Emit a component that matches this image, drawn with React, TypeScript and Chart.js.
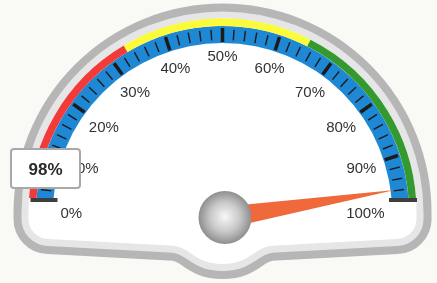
import React, { useEffect, useRef } from 'react';
import { Chart, registerables } from 'chart.js';

Chart.register(...registerables);

const CANVAS_W = 437;
const CANVAS_H = 283;

// ---- data ----
const SCALE_MIN = 0;
const SCALE_MAX = 100;
const BAND_EDGES = [0, 33, 65, 100];
const BAND_COLORS = ['#f23a38', '#fbfb3a', '#349a2f'];
const SCALE_RING = [100];
const SCALE_RING_COLORS = ['#1f88d5'];
const LABEL_VALUES = [0, 10, 20, 30, 40, 50, 60, 70, 80, 90, 100];
const LABEL_TEXTS = ['0%', '10%', '20%', '30%', '40%', '50%', '60%', '70%', '80%', '90%', '100%'];
const MINOR_STEP = 2;
const GAUGE_VALUES = [98];
const VALUE_TEXTS = ['98%'];

// ---- layout ----
const CX = 222.5;
const CY = 212.5;
const R_BAND_OUT = 194;
const R_BAND_IN = 186.5;
const R_RING_IN = 169.5;
const CLIP_Y = 198;
const R_LABEL = 162;
const PIVOT_X = 225;
const PIVOT_Y = 217.5;
const BALL_R = 26.5;
const NEEDLE_LEN = 172;
const NEEDLE_HALF = 11;
const NEEDLE_MARGIN_DEG = 5.8;
const FONT = '"Liberation Sans", Arial, Helvetica, sans-serif';

const valueToAngle = (v: number) =>
  -Math.PI + ((v - SCALE_MIN) / (SCALE_MAX - SCALE_MIN)) * Math.PI;

const needleAngle = (v: number) => {
  const f = (v - SCALE_MIN) / (SCALE_MAX - SCALE_MIN);
  const deg = 180 - NEEDLE_MARGIN_DEG - f * (180 - 2 * NEEDLE_MARGIN_DEG);
  return (-deg * Math.PI) / 180;
};

function facePath(ctx: CanvasRenderingContext2D) {
  const xr = CX + R_BAND_OUT;
  const xl = CX - R_BAND_OUT;
  ctx.beginPath();
  ctx.arc(CX, CY, R_BAND_OUT, Math.PI, 2 * Math.PI);
  ctx.lineTo(xr, 220);
  ctx.arcTo(xr, 238.5, xr - 20, 239, 20);
  ctx.lineTo(276, 245.5);
  ctx.bezierCurveTo(254, 245.5, 252, 264, 222.5, 264);
  ctx.bezierCurveTo(193, 264, 191, 245.5, 169, 245.5);
  ctx.lineTo(xl + 20, 239);
  ctx.arcTo(xl, 238.5, xl, 220, 20);
  ctx.closePath();
}

const gaugePlugin = {
  id: 'gaugeDecor',
  afterUpdate(chart: any) {
    const radii = [
      [R_BAND_IN, R_BAND_OUT],
      [R_RING_IN, R_BAND_IN],
    ];
    radii.forEach(([ri, ro], i) => {
      chart.getDatasetMeta(i).data.forEach((arc: any) => {
        arc.x = CX;
        arc.y = CY;
        arc.innerRadius = ri;
        arc.outerRadius = ro;
      });
    });
  },
  beforeDraw(chart: any) {
    const ctx: CanvasRenderingContext2D = chart.ctx;
    ctx.save();
    ctx.fillStyle = '#f9faf6';
    ctx.fillRect(0, 0, CANVAS_W, CANVAS_H);
    ctx.lineJoin = 'round';
    facePath(ctx);
    ctx.strokeStyle = '#b6b6b6';
    ctx.lineWidth = 30;
    ctx.stroke();
    ctx.strokeStyle = '#e6e6e6';
    ctx.lineWidth = 14;
    ctx.stroke();
    ctx.fillStyle = '#ffffff';
    ctx.fill();
    ctx.restore();
  },
  beforeDatasetsDraw(chart: any) {
    const ctx: CanvasRenderingContext2D = chart.ctx;
    ctx.save();
    ctx.beginPath();
    ctx.rect(0, 0, CANVAS_W, CLIP_Y);
    ctx.clip();
  },
  afterDatasetsDraw(chart: any) {
    const ctx: CanvasRenderingContext2D = chart.ctx;
    // ticks (still clipped)
    ctx.strokeStyle = '#1b1b1b';
    ctx.lineCap = 'butt';
    for (let v = SCALE_MIN; v <= SCALE_MAX; v += MINOR_STEP) {
      const major = LABEL_VALUES.includes(v);
      const a = valueToAngle(v);
      const r1 = major ? 170.5 : 172.5;
      const r2 = major ? 184.5 : 183;
      ctx.lineWidth = major ? 3.5 : 1.4;
      ctx.beginPath();
      ctx.moveTo(CX + r1 * Math.cos(a), CY + r1 * Math.sin(a));
      ctx.lineTo(CX + r2 * Math.cos(a), CY + r2 * Math.sin(a));
      ctx.stroke();
    }
    ctx.restore();

    ctx.save();
    // end markers
    ctx.fillStyle = '#3e3e3e';
    ctx.fillRect(CX - 192, CLIP_Y, 27, 4);
    ctx.fillRect(CX + 166.5, CLIP_Y, 28, 4);

    // labels
    ctx.font = `15px ${FONT}`;
    ctx.fillStyle = '#333333';
    ctx.textAlign = 'center';
    ctx.textBaseline = 'alphabetic';
    const capH = 15 * 0.716;
    LABEL_VALUES.forEach((v, i) => {
      const a = valueToAngle(v);
      const w = ctx.measureText(LABEL_TEXTS[i]).width;
      const inset = (w / 2) * Math.abs(Math.cos(a)) + (capH / 2) * Math.abs(Math.sin(a));
      const r = R_LABEL - inset;
      const x = CX + r * Math.cos(a);
      const y = CY + r * Math.sin(a);
      ctx.fillText(LABEL_TEXTS[i], x, y + capH / 2);
    });

    // needle
    const na = needleAngle(GAUGE_VALUES[0]);
    const tx = PIVOT_X + NEEDLE_LEN * Math.cos(na);
    const ty = PIVOT_Y + NEEDLE_LEN * Math.sin(na);
    const px = -Math.sin(na) * NEEDLE_HALF;
    const py = Math.cos(na) * NEEDLE_HALF;
    ctx.fillStyle = '#f0693b';
    ctx.beginPath();
    ctx.moveTo(PIVOT_X + px, PIVOT_Y + py);
    ctx.lineTo(tx, ty);
    ctx.lineTo(PIVOT_X - px, PIVOT_Y - py);
    ctx.closePath();
    ctx.fill();

    // ball
    const g = ctx.createRadialGradient(PIVOT_X, PIVOT_Y - 1, 0, PIVOT_X, PIVOT_Y, BALL_R);
    g.addColorStop(0, '#f8f8f8');
    g.addColorStop(0.55, '#c9c9c9');
    g.addColorStop(1, '#8e8e8e');
    ctx.fillStyle = g;
    ctx.beginPath();
    ctx.arc(PIVOT_X, PIVOT_Y, BALL_R, 0, Math.PI * 2);
    ctx.fill();

    // value box
    const bx = 11, by = 149, bw = 69, bh = 39, br = 3;
    ctx.beginPath();
    ctx.moveTo(bx + br, by);
    ctx.lineTo(bx + bw - br, by);
    ctx.arcTo(bx + bw, by, bx + bw, by + br, br);
    ctx.lineTo(bx + bw, by + bh - br);
    ctx.arcTo(bx + bw, by + bh, bx + bw - br, by + bh, br);
    ctx.lineTo(bx + br, by + bh);
    ctx.arcTo(bx, by + bh, bx, by + bh - br, br);
    ctx.lineTo(bx, by + br);
    ctx.arcTo(bx, by, bx + br, by, br);
    ctx.closePath();
    ctx.fillStyle = '#ffffff';
    ctx.fill();
    ctx.strokeStyle = '#a8a8a8';
    ctx.lineWidth = 2;
    ctx.stroke();
    ctx.font = `bold 17px ${FONT}`;
    ctx.fillStyle = '#2b2b2b';
    ctx.textAlign = 'center';
    ctx.fillText(VALUE_TEXTS[0], bx + bw / 2, by + bh / 2 + (17 * 0.716) / 2);
    ctx.restore();
  },
};

export default function App() {
  const ref = useRef<HTMLCanvasElement | null>(null);
  useEffect(() => {
    const canvas = ref.current;
    if (!canvas) return;
    const chart = new Chart(canvas, {
      type: 'doughnut',
      data: {
        labels: BAND_COLORS.map((_, i) => `${BAND_EDGES[i]}-${BAND_EDGES[i + 1]}`),
        datasets: [
          {
            data: BAND_EDGES.slice(1).map((e, i) => e - BAND_EDGES[i]),
            backgroundColor: BAND_COLORS,
            borderWidth: 0,
          },
          {
            data: SCALE_RING,
            backgroundColor: SCALE_RING_COLORS,
            borderWidth: 0,
          },
        ],
      },
      options: {
        responsive: false,
        animation: false,
        devicePixelRatio: 1,
        events: [],
        rotation: -90,
        circumference: 180,
        cutout: '80%',
        layout: { padding: 0 },
        plugins: { legend: { display: false }, tooltip: { enabled: false } },
      } as any,
      plugins: [gaugePlugin as any],
    });
    return () => chart.destroy();
  }, []);
  return (
    <div style={{ position: 'fixed', left: 0, top: 0, width: CANVAS_W, height: CANVAS_H }}>
      <canvas ref={ref} width={CANVAS_W} height={CANVAS_H} style={{ display: 'block' }} />
    </div>
  );
}
